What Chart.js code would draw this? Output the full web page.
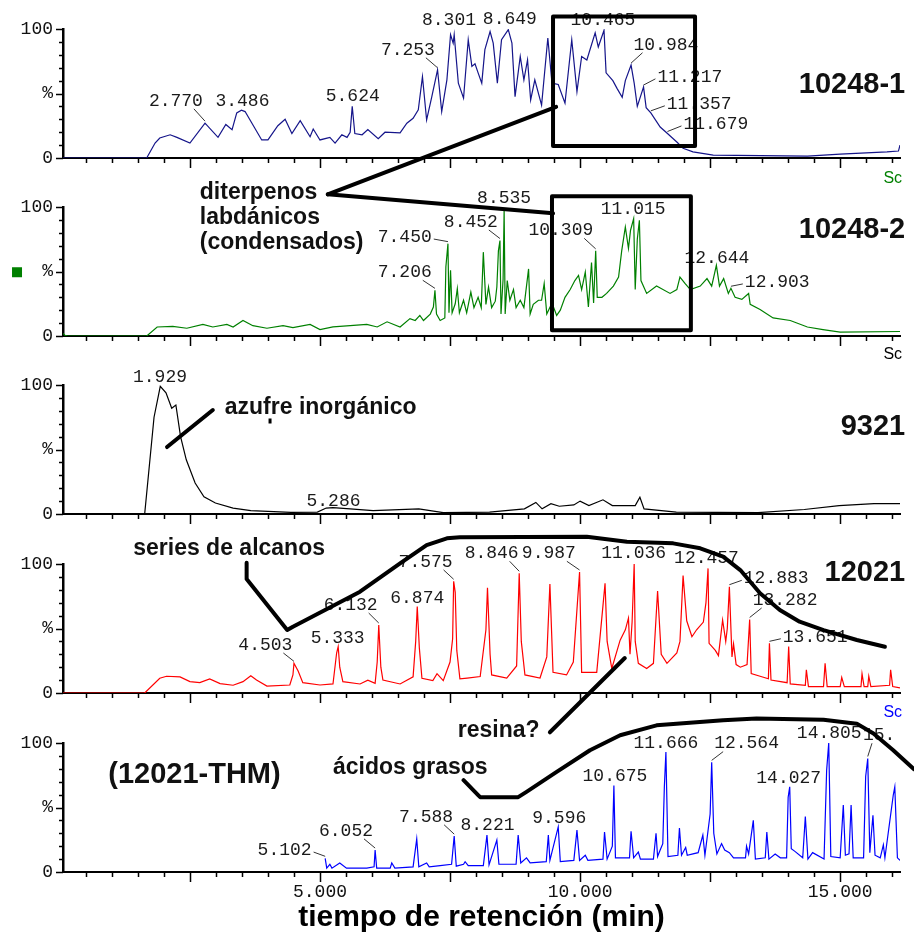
<!DOCTYPE html>
<html>
<head>
<meta charset="utf-8">
<script src="https://cdn.jsdelivr.net/npm/chart.js@4.4.1/dist/chart.umd.min.js"></script>
<style>
  body { margin: 0; background: #fff; }
  #wrap { position: relative; width: 914px; height: 938px; }
  #wrap canvas { position: absolute; left: 0; top: 0; }
</style>
</head>
<body>
<div id="wrap">
  <canvas id="c0" width="914" height="938"></canvas>
  <canvas id="c1" width="914" height="938"></canvas>
  <canvas id="c2" width="914" height="938"></canvas>
  <canvas id="c3" width="914" height="938"></canvas>
  <canvas id="c4" width="914" height="938"></canvas>
  <canvas id="over" width="914" height="938"></canvas>
</div>
<script>
// Traces: [retention time (min), relative abundance (%)]
const trace1 = [
  [0.06, 0], [1.67, 0], [1.69, 1.5], [1.83, 11.6], [1.92, 15.5], [2.12, 18], [2.25, 16], [2.50, 11.6],
  [2.79, 27], [3.04, 16], [3.19, 26], [3.31, 22], [3.40, 35], [3.49, 37], [3.56, 36], [3.88, 14],
  [4.00, 14], [4.19, 25], [4.33, 30], [4.46, 19], [4.62, 29], [4.81, 16.5], [4.87, 22.5], [5.00, 14],
  [5.19, 16], [5.29, 11.6], [5.42, 18], [5.52, 16], [5.58, 20], [5.62, 40], [5.67, 19], [5.81, 18],
  [5.92, 22], [6.12, 15], [6.25, 20], [6.54, 19.5], [6.67, 27], [6.79, 30.8], [6.89, 37.3], [6.97, 63],
  [7.05, 29.5], [7.15, 47.6], [7.26, 68.4], [7.34, 36], [7.44, 60.6], [7.51, 95.6], [7.56, 89], [7.58, 95.6],
  [7.66, 58], [7.76, 46.4], [7.85, 91.7], [7.92, 71], [7.98, 73], [8.04, 66], [8.11, 58], [8.17, 84],
  [8.27, 98], [8.33, 89], [8.41, 58], [8.49, 91.7], [8.62, 99.5], [8.69, 89], [8.75, 47.6], [8.85, 78.7],
  [8.92, 60.6], [8.99, 76], [9.05, 45], [9.13, 60.6], [9.26, 41], [9.38, 93], [9.46, 58], [9.58, 57],
  [9.71, 42.5], [9.84, 91.7], [9.94, 51.5], [10.03, 78.7], [10.13, 76], [10.29, 97], [10.35, 86], [10.46, 99],
  [10.50, 66], [10.63, 60], [10.71, 54], [10.81, 47], [10.87, 60], [10.98, 72], [11.04, 58], [11.10, 40],
  [11.22, 55], [11.27, 39], [11.36, 35], [11.54, 24], [11.68, 19], [11.87, 12], [11.98, 7.5], [12.17, 4.7],
  [12.56, 2.3], [14.37, 1.5], [15.00, 3], [15.90, 4.7], [16.12, 5.4], [16.15, 10]
];
const trace2 = [
  [0.06, 2], [0.10, 0.5], [0.15, 0], [1.67, 0], [1.87, 7], [2.17, 7.5], [2.44, 6], [2.75, 9],
  [2.94, 7], [3.21, 9], [3.33, 7], [3.52, 12], [3.71, 8], [3.98, 6], [4.29, 8], [4.48, 6.5],
  [4.81, 9], [5.00, 5], [5.25, 7], [5.58, 8], [5.90, 9], [6.10, 7], [6.29, 11], [6.54, 7],
  [6.73, 13.5], [6.83, 12], [6.92, 16], [6.99, 12], [7.12, 17], [7.18, 22.5], [7.21, 35.4], [7.24, 17],
  [7.31, 12], [7.40, 14], [7.42, 53.5], [7.46, 71.6], [7.48, 18], [7.51, 51], [7.54, 18], [7.60, 25],
  [7.64, 36.7], [7.68, 18], [7.76, 27.7], [7.82, 18], [7.90, 34], [7.96, 22], [8.04, 30], [8.10, 22],
  [8.14, 65], [8.19, 24.5], [8.24, 38], [8.30, 22], [8.37, 27], [8.40, 38], [8.43, 66], [8.46, 74],
  [8.48, 17], [8.52, 44], [8.54, 97.4], [8.56, 17], [8.60, 43], [8.65, 27.7], [8.72, 36], [8.77, 22],
  [8.85, 27.7], [8.92, 22], [9.01, 52], [9.04, 17], [9.10, 24.5], [9.20, 27.7], [9.26, 27.7], [9.31, 40.6],
  [9.36, 17], [9.46, 25.6], [9.55, 16], [9.62, 20], [9.71, 30], [9.81, 36], [9.90, 43], [9.97, 47],
  [10.03, 36], [10.10, 49.6], [10.16, 22.5], [10.22, 57], [10.26, 25.6], [10.30, 66], [10.33, 30], [10.42, 30],
  [10.51, 33], [10.64, 38.7], [10.74, 45.7], [10.80, 66], [10.87, 84.5], [10.93, 68], [10.97, 82], [11.03, 91],
  [11.06, 36], [11.10, 75], [11.14, 89.7], [11.17, 43], [11.28, 33], [11.47, 38.7], [11.73, 33], [11.86, 36],
  [11.92, 45.7], [12.02, 40.6], [12.12, 36], [12.31, 38.7], [12.44, 44.5], [12.53, 38.7], [12.62, 54.8], [12.68, 38.7],
  [12.76, 44.5], [12.85, 33], [12.90, 37], [12.98, 30], [13.11, 28.4], [13.24, 33], [13.27, 24.5], [13.46, 20.6],
  [13.71, 14], [14.04, 12], [14.37, 7], [14.67, 5], [15.00, 3], [16.15, 3.5]
];
const trace3 = [
  [0.06, 0], [1.63, 0], [1.81, 75], [1.93, 99], [2.04, 94], [2.15, 82], [2.23, 84.5], [2.32, 60],
  [2.43, 42], [2.60, 24], [2.77, 13.4], [2.99, 8.5], [3.33, 4.6], [3.67, 2.6], [4.44, 1.3], [4.95, 1.5],
  [5.12, 4.6], [5.25, 5], [5.58, 4], [6.02, 2.6], [6.90, 4], [7.37, 1], [8.26, 1.5], [8.93, 4],
  [9.15, 9], [9.27, 4], [9.44, 8], [9.60, 6], [9.88, 7], [10.00, 10], [10.17, 6.5], [10.44, 11],
  [10.62, 6.5], [11.06, 6.5], [11.15, 13], [11.23, 4], [11.85, 1.5], [13.42, 1], [14.31, 3.5], [14.98, 6.5],
  [15.65, 8], [16.15, 8]
];
const trace4 = [
  [0.06, 0], [1.63, 0], [1.92, 11.4], [2.05, 13], [2.31, 12.5], [2.50, 8.8], [2.69, 8], [2.88, 10.9],
  [3.08, 7.3], [3.33, 6], [3.52, 8.8], [3.67, 13.4], [3.78, 10], [3.98, 5.4], [4.42, 6.2], [4.48, 14],
  [4.50, 23], [4.58, 17], [4.67, 8], [5.00, 6.2], [5.25, 7], [5.32, 31], [5.35, 36], [5.38, 20],
  [5.44, 8.8], [5.77, 7], [5.92, 10], [6.06, 7.5], [6.10, 24], [6.13, 52.7], [6.17, 20], [6.21, 10],
  [6.54, 7], [6.79, 12.5], [6.84, 40], [6.87, 67], [6.91, 35], [6.96, 11.4], [7.17, 9.6], [7.25, 15],
  [7.37, 9.6], [7.50, 24], [7.55, 42], [7.57, 86.6], [7.60, 78], [7.63, 33], [7.69, 11], [7.83, 11.6],
  [8.08, 12.8], [8.19, 49], [8.22, 81.6], [8.27, 30], [8.30, 14], [8.59, 11.6], [8.78, 21], [8.83, 92.8],
  [8.87, 40], [8.94, 14], [9.23, 11.6], [9.36, 28], [9.42, 84.5], [9.48, 16], [9.74, 14], [9.87, 24],
  [9.99, 93.8], [10.03, 16], [10.32, 16], [10.48, 85], [10.52, 40], [10.61, 19], [10.77, 41], [10.87, 49],
  [10.93, 58], [10.96, 30], [11.00, 55], [11.04, 100], [11.06, 40], [11.12, 23], [11.28, 19], [11.41, 23],
  [11.49, 79], [11.56, 30], [11.67, 23], [11.86, 31], [11.92, 40], [11.98, 91], [12.05, 56], [12.15, 43.6],
  [12.24, 49], [12.37, 55], [12.42, 70], [12.46, 96.6], [12.48, 38.5], [12.60, 33], [12.66, 29], [12.74, 56.6],
  [12.80, 40], [12.83, 50], [12.87, 82.4], [12.92, 28], [12.95, 38], [13.00, 22], [13.08, 20], [13.21, 22],
  [13.26, 57], [13.29, 15], [13.46, 13], [13.62, 11], [13.64, 38.5], [13.67, 10], [13.98, 8], [14.01, 36],
  [14.04, 7], [14.33, 6], [14.35, 18], [14.39, 5], [14.68, 5], [14.71, 23], [14.75, 5], [15.00, 5],
  [15.03, 12], [15.08, 5], [15.40, 5], [15.42, 15], [15.46, 5], [15.53, 5], [15.55, 13], [15.59, 5],
  [15.95, 6], [15.97, 18], [16.01, 5], [16.15, 4]
];
const trace5 = [
  [5.10, 10.6], [5.13, 3], [5.19, 6], [5.23, 3], [5.38, 7], [5.51, 3], [5.90, 3], [6.04, 4],
  [6.06, 17], [6.09, 3], [6.35, 3], [6.38, 7], [6.44, 3], [6.79, 4], [6.86, 25.7], [6.90, 4],
  [7.05, 7], [7.10, 4], [7.31, 5], [7.53, 6], [7.58, 27.8], [7.62, 4.5], [7.76, 6], [7.79, 8],
  [7.85, 5], [8.14, 5], [8.21, 28.6], [8.25, 5.5], [8.40, 24.7], [8.44, 6], [8.77, 6], [8.81, 28.6],
  [8.86, 7], [8.97, 11], [9.04, 7], [9.35, 8], [9.39, 28.6], [9.42, 9], [9.58, 35], [9.62, 8],
  [9.88, 9], [9.94, 32.5], [9.99, 9], [10.10, 13], [10.15, 9], [10.44, 10], [10.47, 31], [10.52, 10],
  [10.62, 20], [10.65, 67], [10.68, 11], [10.95, 11], [10.98, 31.6], [11.03, 11], [11.12, 15.5], [11.16, 10],
  [11.41, 10], [11.46, 30], [11.49, 12], [11.54, 17], [11.59, 22], [11.62, 66], [11.65, 93], [11.69, 12],
  [11.88, 13], [11.91, 34], [11.95, 13], [12.03, 19], [12.06, 13], [12.17, 14], [12.27, 15], [12.36, 28.6],
  [12.40, 13], [12.50, 45], [12.53, 85], [12.57, 30], [12.63, 14], [12.72, 22], [12.78, 17], [12.87, 15],
  [12.95, 11], [13.18, 11], [13.20, 20], [13.24, 14], [13.33, 40], [13.37, 10], [13.56, 11], [13.59, 31],
  [13.63, 10], [13.75, 14], [13.85, 11], [13.97, 11], [14.00, 58], [14.03, 66], [14.06, 18], [14.13, 16],
  [14.28, 11], [14.33, 43], [14.38, 10], [14.47, 15], [14.69, 10], [14.74, 79], [14.78, 100], [14.82, 12],
  [15.00, 11], [15.06, 52], [15.10, 13], [15.17, 14], [15.21, 52], [15.25, 11], [15.45, 11], [15.49, 74],
  [15.53, 88], [15.57, 15], [15.63, 44], [15.67, 13], [15.77, 11], [15.83, 21], [15.86, 11], [16.02, 59.5],
  [16.05, 66], [16.10, 11], [16.15, 9]
];

// labelled retention times per trace
const peaks1 = [2.770, 3.486, 5.624, 7.253, 8.301, 8.649, 10.465, 10.984, 11.217, 11.357, 11.679];
const peaks2 = [7.206, 7.450, 8.452, 8.535, 10.309, 11.015, 12.644, 12.903];
const peaks3 = [1.929, 5.286];
const peaks4 = [4.503, 5.333, 6.132, 6.874, 7.575, 8.846, 9.987, 11.036, 12.457, 12.883, 13.282, 13.651];
const peaks5 = [5.102, 6.052, 7.588, 8.221, 9.596, 10.675, 11.666, 12.564, 14.027, 14.805, 15.520];

const samples = ['10248-1', '10248-2', '9321', '12021', '(12021-THM)'];
const xTickValues = [5, 10, 15];
const xTickLabels = ['5.000', '10.000', '15.000'];
const yTickLabels = {0: '0', 50: '%', 100: '100'};
const xTitle = 'tiempo de retención (min)';

// ---- layout (pixels / data-space placement of the annotations) ----
const W = 914, H = 938;
const X_MIN = 0.06, X_MAX = 16.15;
const topY = [29, 207, 385, 564, 743];     // where 100 % sits
const zeroY = [158, 336, 514, 693, 872];   // where 0 % sits
const colors = ['#15158a', '#008000', '#000000', '#ff0000', '#0000ff'];
const MONO = '"Liberation Mono", "Courier New", monospace';
const SANS = '"Liberation Sans", Arial, sans-serif';

// text centre of each peak label [t, %, leader?, text override]
const labelAt = [
  [[2.23, 44.3, 1], [3.51, 44.3, 0], [5.63, 48.2, 0], [6.69, 83.9, 1], [7.48, 106.5, 0], [8.65, 107.2, 0],
   [10.44, 106.5, 0], [11.65, 87.8, 1], [12.11, 62.9, 1], [12.29, 42, 1], [12.61, 26.4, 1]],
  [[6.63, 49.4, 1], [6.63, 76.7, 1], [7.90, 88.4, 1], [8.54, 106.7, 0], [9.63, 81.9, 1], [11.02, 98.2, 0],
   [12.63, 60.2, 0], [13.79, 41.9, 1]],
  [[1.925, 106.2, 0], [5.26, 10.1, 0]],
  [[3.95, 37.2, 1], [5.34, 42.4, 0], [5.59, 68.2, 1], [6.87, 73.4, 0], [7.03, 101.6, 1], [8.30, 108.3, 1],
   [9.40, 108.3, 1], [11.03, 108.3, 0], [12.43, 104.4, 0], [13.77, 88.9, 1], [13.94, 72.1, 1], [14.52, 43.6, 1]],
  [[4.32, 17, 1], [5.50, 31.9, 1], [7.04, 42.8, 1], [8.22, 36.4, 0], [9.60, 41.5, 0], [10.67, 74.2, 0],
   [11.65, 99.5, 0], [13.20, 99.5, 1], [14.01, 72.5, 0], [14.79, 107.3, 0], [15.75, 106, 1, '15.']]
];

const panels = [
  {trace: trace1, peaks: peaks1}, {trace: trace2, peaks: peaks2}, {trace: trace3, peaks: peaks3},
  {trace: trace4, peaks: peaks4}, {trace: trace5, peaks: peaks5}
];

function apex(trace, rt) {
  let best = [rt, -1];
  trace.forEach(([t, v]) => {
    if (Math.abs(t - rt) <= 0.06 && v > best[1]) best = [t, v];
  });
  return best;
}

// minor/major tick marks on both axes
const tickMarks = {
  id: 'tickMarks',
  afterDraw(chart) {
    const {ctx, chartArea: a, scales: {x, y}} = chart;
    ctx.save();
    ctx.strokeStyle = '#000';
    ctx.lineWidth = 1.5;
    ctx.beginPath();
    x.ticks.forEach(tk => {
      if (tk.value <= x.min || tk.value > x.max) return;
      const px = Math.round(x.getPixelForValue(tk.value)) + 0.5;
      const major = Math.abs(tk.value / 2.5 - Math.round(tk.value / 2.5)) < 1e-6;
      ctx.moveTo(px, a.bottom);
      ctx.lineTo(px, a.bottom + (major ? 10 : 5));
    });
    y.ticks.forEach(tk => {
      const py = Math.round(y.getPixelForValue(tk.value)) + 0.5;
      ctx.moveTo(a.left - (tk.value % 50 === 0 ? 7 : 4), py);
      ctx.lineTo(a.left, py);
    });
    ctx.stroke();
    ctx.restore();
  }
};

function peakLabels(i) {
  return {
    id: 'peakLabels' + i,
    afterDatasetsDraw(chart) {
      const {ctx, scales: {x, y}} = chart;
      const p = panels[i];
      ctx.save();
      ctx.font = '18px ' + MONO;
      ctx.fillStyle = '#1a1a1a';
      ctx.strokeStyle = '#333';
      ctx.lineWidth = 1;
      ctx.textAlign = 'center';
      ctx.textBaseline = 'middle';
      p.peaks.forEach((rt, k) => {
        const [tx, ty, lead, txt] = labelAt[i][k];
        const s = txt || rt.toFixed(3);
        const cx = x.getPixelForValue(tx), cy = y.getPixelForValue(ty);
        ctx.fillText(s, cx, cy);
        if (!lead) return;
        const [at, av] = apex(p.trace, rt);
        const ax = x.getPixelForValue(at), ay = y.getPixelForValue(av) - 2;
        const w = ctx.measureText(s).width;
        let ex, ey;
        if (Math.abs(ay - cy) < 15) {
          ex = cx < ax ? cx + w / 2 + 2 : cx - w / 2 - 2; ey = cy + 2;
        } else {
          ex = cx < ax ? cx + w / 2 - 9 : cx - w / 2 + 9; ey = cy + 8;
        }
        ctx.beginPath();
        ctx.moveTo(ex, ey);
        ctx.lineTo(ax, ay);
        ctx.stroke();
      });
      ctx.restore();
    }
  };
}

const charts = panels.map((p, i) => {
  const last = i === panels.length - 1;
  const axisH = last ? H - zeroY[i] : 12;
  return new Chart(document.getElementById('c' + i), {
    type: 'line',
    data: {
      datasets: [{
        data: p.trace.map(([t, v]) => ({x: t, y: v})),
        borderColor: colors[i],
        borderWidth: 1.2,
        pointRadius: 0,
        tension: 0,
        fill: false
      }]
    },
    options: {
      responsive: false,
      animation: false,
      devicePixelRatio: 1,
      events: [],
      layout: {padding: {top: topY[i], bottom: H - zeroY[i] - axisH, left: 0, right: W - 900}},
      plugins: {legend: {display: false}, tooltip: {enabled: false}},
      scales: {
        x: {
          type: 'linear', min: X_MIN, max: X_MAX,
          afterFit: s => { s.height = axisH; },
          grid: {display: false, drawTicks: false},
          border: {color: '#000', width: 2},
          ticks: {
            display: last, stepSize: 0.5, autoSkip: false, maxRotation: 0, includeBounds: false,
            padding: 9, color: '#111', font: {family: MONO, size: 18},
            callback: v => { const k = xTickValues.indexOf(v); return k >= 0 ? xTickLabels[k] : ''; }
          },
          title: {
            display: last, text: xTitle, color: '#000',
            font: {family: SANS, size: 30, weight: 'bold'}, padding: {top: 0, bottom: 2}
          }
        },
        y: {
          min: 0, max: 100,
          afterFit: s => { s.width = 63; },
          grid: {display: false, drawTicks: false},
          border: {color: '#000', width: 2.5},
          ticks: {
            stepSize: 10, autoSkip: false, padding: 10, color: '#111',
            font: {family: MONO, size: 18},
            callback: v => yTickLabels[v] || ''
          }
        }
      }
    },
    plugins: [tickMarks, peakLabels(i)]
  });
});

// ---- hand-drawn callouts, placed in each panel's own (time, %) space ----
const boxes = [
  {panel: 0, t: [9.48, 12.21], v: [109.6, 9.3]},
  {panel: 1, t: [9.46, 12.13], v: [108.3, 4.4]}
];
const strokes = [
  [[1, 5.15, 109.8], [0, 9.54, 39.6]],
  [[1, 5.15, 109.8], [1, 9.48, 95.1]],
  [[2, 2.06, 51.9], [2, 2.94, 80.6]],
  [[3, 3.59, 101], [3, 3.59, 88.4], [3, 4.37, 48.8], [3, 4.48, 51.4], [3, 5.77, 78.5], [3, 6.54, 100.5],
   [3, 7.05, 114.7], [3, 7.44, 119.9], [3, 7.69, 120.7], [3, 10.13, 121.2], [3, 10.90, 117.3],
   [3, 11.79, 116], [3, 12.31, 112.2], [3, 12.75, 105.7], [3, 13.08, 95.3], [3, 13.46, 77.3],
   [3, 13.84, 64.3], [3, 14.22, 55.3], [3, 14.68, 48.8], [3, 15.32, 41.1], [3, 15.86, 35.9]],
  [[4, 9.42, 108.3], [3, 10.86, 27.1]],
  [[4, 7.76, 71.2], [4, 8.04, 59.6], [4, 8.08, 58], [4, 8.81, 58], [4, 8.97, 62.1], [4, 9.55, 77.6],
   [4, 10.19, 94.4], [4, 10.77, 106], [4, 11.47, 113.7], [4, 12.75, 117.6], [4, 13.39, 118.9],
   [4, 14.68, 118.1], [4, 15.32, 115], [4, 15.64, 107.3], [4, 16.02, 94.4], [4, 16.42, 79.7]]
];
const notes = [
  {panel: 1, t: 2.69, v: 111.4, text: 'diterpenos'},
  {panel: 1, t: 2.69, v: 91.9, text: 'labdánicos'},
  {panel: 1, t: 2.69, v: 72.5, text: '(condensados)'},
  {panel: 2, t: 3.17, v: 82.2, text: 'azufre inorgánico'},
  {panel: 3, t: 1.41, v: 111.6, text: 'series de alcanos'},
  {panel: 4, t: 7.65, v: 109.8, text: 'resina?'},
  {panel: 4, t: 5.25, v: 81.2, text: 'ácidos grasos'}
];
const sampleAt = [[0, 16.25, 56.7, 'right'], [1, 16.25, 81.9, 'right'], [2, 16.25, 67.4, 'right'],
                  [3, 16.25, 93, 'right'], [4, 0.93, 75, 'left']];
const scAt = [[1, 16.19, 122.2], [2, 16.19, 123.3], [4, 16.19, 123.7]];

function P(panel, t, v) {
  const s = charts[panel].scales;
  return [s.x.getPixelForValue(t), s.y.getPixelForValue(v)];
}

const ov = document.getElementById('over').getContext('2d');
ov.strokeStyle = '#000';
ov.fillStyle = '#111';
ov.lineWidth = 4;
ov.lineJoin = 'round';
ov.lineCap = 'round';

boxes.forEach(b => {
  const [x0, y0] = P(b.panel, b.t[0], b.v[0]);
  const [x1, y1] = P(b.panel, b.t[1], b.v[1]);
  ov.strokeRect(x0, y0, x1 - x0, y1 - y0);
});
strokes.forEach(line => {
  ov.beginPath();
  line.forEach(([pn, t, v], k) => {
    const [x, y] = P(pn, t, v);
    if (k === 0) ov.moveTo(x, y); else ov.lineTo(x, y);
  });
  ov.stroke();
});

ov.textBaseline = 'middle';
ov.textAlign = 'left';
ov.font = 'bold 23px ' + SANS;
notes.forEach(n => {
  const [x, y] = P(n.panel, n.t, n.v);
  ov.fillText(n.text, x, y);
});

ov.font = 'bold 29px ' + SANS;
sampleAt.forEach(([pn, t, v, align], k) => {
  const [x, y] = P(pn, t, v);
  ov.textAlign = align;
  ov.fillText(samples[k], x, y);
});

ov.font = '16px ' + SANS;
ov.textAlign = 'right';
scAt.forEach(([pn, t, v]) => {
  const [x, y] = P(pn, t, v);
  ov.fillStyle = colors[pn];
  ov.fillText('Sc', x, y);
});

// small trace-colour marker left of the second panel and the stray dot in the third
const [gx, gy] = P(1, -0.92, 53.3);
ov.fillStyle = colors[1];
ov.fillRect(gx, gy, 10, 10);
const [dx, dy] = P(2, 4.04, 72.1);
ov.fillStyle = '#000';
ov.fillRect(dx - 1.5, dy - 2.5, 3, 5);
</script>
</body>
</html>
